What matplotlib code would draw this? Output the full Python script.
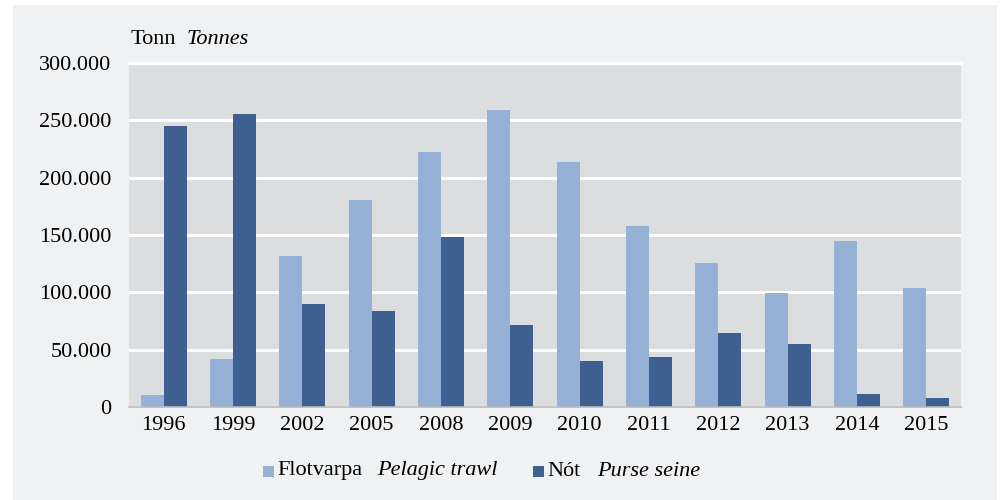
import matplotlib
matplotlib.use("Agg")
import matplotlib.pyplot as plt
import matplotlib.patches as mpatches
import numpy as np

years = ["1996", "1999", "2002", "2005", "2008", "2009", "2010", "2011", "2012", "2013", "2014", "2015"]
pelagic_trawl = [10500, 42000, 132000, 180500, 222500, 259000, 213500, 158000, 125500, 99500, 145000, 104000]
purse_seine = [245000, 255500, 90000, 83500, 148000, 71500, 40000, 43500, 64500, 55000, 11500, 8000]
yticks = [0, 50000, 100000, 150000, 200000, 250000, 300000]
ytick_labels = ["0", "50.000", "100.000", "150.000", "200.000", "250.000", "300.000"]

W, H = 1002, 500
fig = plt.figure(figsize=(W / 100, H / 100), dpi=100)
fig.patch.set_facecolor("white")
fig.patches.append(mpatches.Rectangle((13 / W, 0), (997 - 13) / W, (500 - 5) / H,
                                      transform=fig.transFigure, facecolor="#F0F1F3",
                                      edgecolor="none", zorder=-10))

ax = fig.add_axes([129 / W, (500 - 407) / H, (961 - 129) / W, (407 - 63) / H])
ax.set_facecolor("#DCDDDF")
serif = "Liberation Serif"
fs = 16

x = np.arange(len(years))
bw = 0.33
light = "#95B1D5"
dark = "#3D6090"
ax.bar(x - bw / 2, pelagic_trawl, width=bw, color=light, zorder=3)
ax.bar(x + bw / 2, purse_seine, width=bw, color=dark, zorder=3)

ax.set_xlim(-0.5, len(years) - 0.5)
ax.set_ylim(0, 300000)
ax.set_yticks(yticks)
ax.set_yticklabels(ytick_labels, fontfamily=serif, fontsize=fs)
ax.set_xticks(x)
ax.set_xticklabels(years, fontfamily=serif, fontsize=fs)
ax.yaxis.grid(True, color="white", linewidth=2.2, zorder=1)
ax.set_axisbelow(True)
ax.tick_params(axis="both", length=0, colors="black")
ax.tick_params(axis="y", pad=12.5)
ax.tick_params(axis="x", pad=6.5)
for s in ["top", "right", "left"]:
    ax.spines[s].set_visible(False)
ax.spines["bottom"].set_color("#B8BABD")
ax.spines["bottom"].set_linewidth(1.2)
ax.spines["bottom"].set_zorder(4)

ax.axhline(300000, color="white", linewidth=2.5, zorder=2, clip_on=False)

fig.text(131 / W, 1 - 39 / H, "Tonn", fontfamily=serif, fontsize=fs, va="center", ha="left")
fig.text(187 / W, 1 - 39 / H, "Tonnes", fontfamily=serif, fontsize=fs, style="italic", va="center", ha="left")

# Legend
ly = 1 - 471 / H
fig.patches.append(mpatches.Rectangle((263 / W, ly - 5.5 / H), 11 / W, 11 / H, transform=fig.transFigure,
                                      facecolor=light, edgecolor="none"))
fig.text(277 / W, ly, "Flotvarpa", fontfamily=serif, fontsize=fs, va="center", ha="left")
fig.text(377 / W, ly, "Pelagic trawl", fontfamily=serif, fontsize=fs, style="italic", va="center", ha="left")
fig.patches.append(mpatches.Rectangle((533 / W, ly - 5.5 / H), 11 / W, 11 / H, transform=fig.transFigure,
                                      facecolor=dark, edgecolor="none"))
fig.text(547 / W, ly, "Nót", fontfamily=serif, fontsize=fs, va="center", ha="left")
fig.text(597 / W, ly, "Purse seine", fontfamily=serif, fontsize=fs, style="italic", va="center", ha="left")

fig.savefig("out.png", dpi=100)
